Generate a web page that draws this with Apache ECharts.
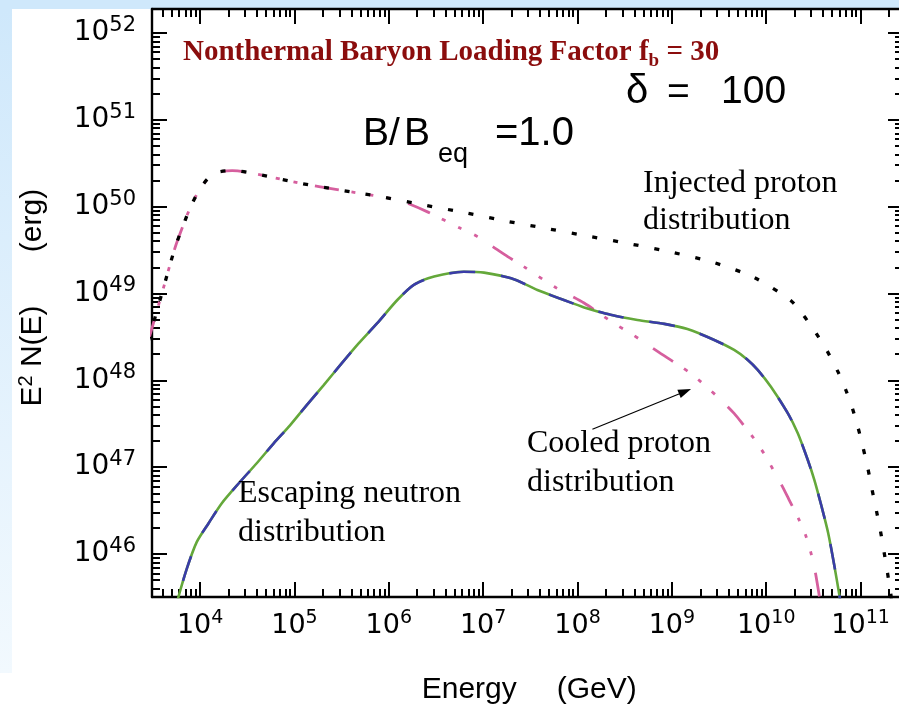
<!DOCTYPE html>
<html>
<head>
<meta charset="utf-8">
<title>Nonthermal Baryon Loading</title>
<script src="https://cdn.jsdelivr.net/npm/echarts@6/dist/echarts.min.js"></script>
<style>
  html, body { margin: 0; padding: 0; background: #ffffff; }
  #chart { width: 899px; height: 708px; }
</style>
</head>
<body>
<div id="chart"></div>
<script>
// Curves are stored as log10(E / GeV) and log10(E^2 N(E) / erg).

// Injected proton distribution (dotted)
const injectedLogE = [3.45, 3.49, 3.61, 3.735, 3.84, 3.90, 3.99, 4.08, 4.18, 4.34, 4.60, 5.06, 5.49, 5.91,
  6.37, 6.83, 7.26, 7.69, 8.14, 8.565, 9.02, 9.45, 9.87, 10.26, 10.40, 10.53, 10.65, 10.76, 10.847, 10.916, 10.975,
  11.028, 11.081, 11.123, 11.171, 11.213, 11.251, 11.286, 11.325, 11.34];
const injectedLogY = [48.45, 48.60, 49.06, 49.53, 49.84, 50.00, 50.19, 50.32, 50.395, 50.415, 50.375, 50.27, 50.19, 50.115,
  50.02, 49.925, 49.83, 49.745, 49.655, 49.57, 49.47, 49.355, 49.185, 48.92, 48.74, 48.54, 48.33, 48.10, 47.88, 47.67, 47.45,
  47.221, 46.968, 46.737, 46.484, 46.253, 46.012, 45.781, 45.505, 45.355];

// Cooled proton distribution (dash-dot-dot-dot)
const cooledLogE = [3.45, 3.49, 3.61, 3.735, 3.84, 3.90, 3.99, 4.08, 4.18, 4.34, 4.60, 5.06, 5.49, 5.91,
  6.12, 6.41, 6.76, 6.94, 7.26, 7.43, 7.75, 8.07, 8.38, 8.565, 8.88, 9.20, 9.485, 9.66, 9.76, 9.87,
  9.98, 10.08, 10.175, 10.24, 10.35, 10.42, 10.47, 10.51, 10.54, 10.565, 10.58];
const cooledLogY = [48.45, 48.60, 49.06, 49.53, 49.84, 50.00, 50.19, 50.32, 50.395, 50.415, 50.375, 50.27, 50.19, 50.115,
  50.07, 49.94, 49.75, 49.655, 49.425, 49.31, 49.08, 48.89, 48.66, 48.54, 48.31, 48.08, 47.81, 47.62, 47.485, 47.33,
  47.15, 46.96, 46.77, 46.63, 46.39, 46.21, 46.03, 45.85, 45.67, 45.50, 45.38];

// Escaping neutron distribution (green / blue dashes)
const neutronLogE = [3.75, 3.77, 3.86, 3.965, 4.09, 4.23, 4.41, 4.60, 4.78, 4.955, 5.13, 5.31, 5.50, 5.68,
  5.875, 6.09, 6.265, 6.48, 6.795, 7.01, 7.325, 7.575, 7.855, 8.07, 8.35, 8.635, 8.92, 9.165, 9.45,
  9.66, 9.805, 9.91, 10.05, 10.23, 10.335, 10.44, 10.51, 10.58, 10.655, 10.72, 10.775, 10.79];
const neutronLogY = [45.40, 45.505, 45.835, 46.14, 46.355, 46.585, 46.815, 47.045, 47.275, 47.485, 47.715, 47.945, 48.195, 48.425,
  48.655, 48.925, 49.10, 49.195, 49.25, 49.24, 49.165, 49.04, 48.925, 48.84, 48.755, 48.695, 48.65, 48.59, 48.465,
  48.35, 48.235, 48.12, 47.925, 47.62, 47.39, 47.085, 46.855, 46.576, 46.25, 45.88, 45.53, 45.42];

// Axis decades (tick labels 10^n) and visible ranges, as log10 values
const xDecades = [4, 5, 6, 7, 8, 9, 10, 11];
const yDecades = [46, 47, 48, 49, 50, 51, 52];
const xRangeExp = [3.49, 11.45];
const yRangeExp = [45.505, 52.276];

// Arrow pointing at the cooled curve, log10 coordinates
const arrowFrom = [8.158, 47.437];
const arrowTo = [9.14, 47.872];

const pow10 = (e) => Math.pow(10, e);
const toPairs = (xs, ys) => xs.map((x, i) => [pow10(x), pow10(ys[i])]);

const xMin = pow10(xRangeExp[0]), xMax = pow10(xRangeExp[1]);
const yMin = pow10(yRangeExp[0]), yMax = pow10(yRangeExp[1]);

function majorValues(decades) {
  return decades.map(pow10);
}
function minorValues(decades, lo, hi) {
  const out = [];
  const all = [decades[0] - 1].concat(decades);
  all.forEach((d) => {
    for (let k = 2; k <= 9; k++) {
      const v = k * pow10(d);
      if (v > lo && v < hi) out.push(v);
    }
  });
  return out;
}

const labelText = (v) => '{b|10}{s|' + Math.round(Math.log10(v)) + '}';
const TICK_FONT = 'DejaVu Sans';

const xRich = {
  b: { fontFamily: TICK_FONT, fontSize: 27, lineHeight: 34, color: '#000' },
  s: { fontFamily: TICK_FONT, fontSize: 19, lineHeight: 14, color: '#000', verticalAlign: 'top' }
};
const yRich = {
  b: { fontFamily: TICK_FONT, fontSize: 28, lineHeight: 36, color: '#000' },
  s: { fontFamily: TICK_FONT, fontSize: 21, lineHeight: 16, color: '#000', verticalAlign: 'top' }
};

function makeAxis(kind, position, values, longTicks, label) {
  const isX = kind === 'x';
  return {
    type: 'log',
    logBase: 10,
    position: position,
    min: isX ? xMin : yMin,
    max: isX ? xMax : yMax,
    axisLine: { show: longTicks, onZero: false, lineStyle: { color: '#000', width: 2.4 } },
    axisTick: {
      show: true, inside: true, length: longTicks ? 15 : 8,
      customValues: values,
      lineStyle: { color: '#000', width: 2 }
    },
    axisLabel: label ? Object.assign({ show: true, customValues: values, formatter: labelText,
                                       fontFamily: TICK_FONT, color: '#000' }, label)
                     : { show: false },
    splitLine: { show: false },
    minorTick: { show: false },
    minorSplitLine: { show: false }
  };
}

const xMajor = majorValues(xDecades), xMinor = minorValues(xDecades, xMin, xMax);
const yMajor = majorValues(yDecades), yMinor = minorValues(yDecades, yMin, yMax);

const serif = '"Liberation Serif", "Times New Roman", serif';
const sans = '"Liberation Sans", Arial, sans-serif';

function txt(x, y, text, font, extra) {
  return Object.assign({
    type: 'text', x: x, y: y, z: 100, silent: true,
    style: Object.assign({
      text: text, font: font, fill: '#000',
      align: 'left', textAlign: 'left',
      verticalAlign: 'middle', textVerticalAlign: 'middle'
    }, (extra && extra.style) || {})
  }, (extra && extra.el) || {});
}

const titleRed = '#8b0d0d';
const curveSmooth = 0.25;

const chart = echarts.init(document.getElementById('chart'), null, { renderer: 'canvas' });

chart.setOption({
  animation: false,
  backgroundColor: '#ffffff',
  grid: { left: 152, top: 9, width: 751, height: 588, containLabel: false, outerBoundsMode: 'none' },
  xAxis: [
    makeAxis('x', 'bottom', xMajor, true, { margin: 12, rich: xRich }),
    makeAxis('x', 'top', xMajor, true, null),
    makeAxis('x', 'bottom', xMinor, false, null),
    makeAxis('x', 'top', xMinor, false, null)
  ],
  yAxis: [
    makeAxis('y', 'left', yMajor, true, { margin: 16, rich: yRich }),
    makeAxis('y', 'right', yMajor, true, null),
    makeAxis('y', 'left', yMinor, false, null),
    makeAxis('y', 'right', yMinor, false, null)
  ],
  series: [
    {
      name: 'Cooled proton distribution',
      type: 'line', xAxisIndex: 0, yAxisIndex: 0,
      data: toPairs(cooledLogE, cooledLogY),
      showSymbol: false, symbol: 'none', smooth: curveSmooth,
      lineStyle: { color: '#d65f9e', width: 2.8, type: [24, 13, 4, 14, 4, 14, 4, 18], cap: 'butt' },
      z: 3,
      markLine: {
        silent: true,
        symbol: ['none', 'triangle'],
        symbolSize: [9, 13],
        label: { show: false },
        lineStyle: { color: '#000', width: 1.2, type: 'solid' },
        itemStyle: { color: '#000' },
        data: [[
          { coord: [pow10(arrowFrom[0]), pow10(arrowFrom[1])] },
          { coord: [pow10(arrowTo[0]), pow10(arrowTo[1])] }
        ]]
      }
    },
    {
      name: 'Injected proton distribution',
      type: 'line', xAxisIndex: 0, yAxisIndex: 0,
      data: toPairs(injectedLogE, injectedLogY),
      showSymbol: false, symbol: 'none', smooth: curveSmooth,
      lineStyle: { color: '#000000', width: 3.3, type: [5, 16], cap: 'butt' },
      z: 4
    },
    {
      name: 'Escaping neutron distribution',
      type: 'line', xAxisIndex: 0, yAxisIndex: 0,
      data: toPairs(neutronLogE, neutronLogY),
      showSymbol: false, symbol: 'none', smooth: curveSmooth,
      lineStyle: { color: '#64a83a', width: 2.6, type: 'solid' },
      z: 5
    },
    {
      name: 'Escaping neutron distribution (alt)',
      type: 'line', xAxisIndex: 0, yAxisIndex: 0,
      data: toPairs(neutronLogE, neutronLogY),
      showSymbol: false, symbol: 'none', smooth: curveSmooth,
      lineStyle: { color: '#3a3ca8', width: 2.6, type: [26, 26], dashOffset: 26, cap: 'butt' },
      z: 6
    }
  ],
  graphic: {
    elements: [
      // slide frame: light blue band along the top and left edges
      { type: 'rect', z: -100, silent: true, shape: { x: 0, y: 0, width: 899, height: 9 },
        style: { fill: '#cfe8fb' } },
      { type: 'rect', z: -100, silent: true, shape: { x: 0, y: 9, width: 12, height: 664 },
        style: { fill: { type: 'linear', x: 0, y: 0, x2: 0, y2: 1,
          colorStops: [{ offset: 0, color: '#cfe8fb' }, { offset: 1, color: '#f2f9fe' }] } } },

      // heading
      { type: 'text', x: 183, y: 53, z: 100, silent: true,
        style: {
          text: '{m|Nonthermal Baryon Loading Factor f}{s|b}{m| = 30}',
          verticalAlign: 'middle', textVerticalAlign: 'middle', align: 'left', textAlign: 'left',
          rich: {
            m: { font: 'bold 29px ' + serif, fill: titleRed, lineHeight: 30, verticalAlign: 'top' },
            s: { font: 'bold 19px ' + serif, fill: titleRed, lineHeight: 20, padding: [14, 0, 0, 0], verticalAlign: 'top' }
          }
        } },

      // parameters
      txt(626, 92, '\u03b4', '40px ' + sans),
      txt(667, 93, '=', '39px ' + sans),
      txt(721, 92, '100', '39px ' + sans),
      txt(363, 134, 'B', '39px ' + sans),
      txt(389, 134, '/', '39px ' + sans),
      txt(404, 134, 'B', '39px ' + sans),
      txt(438, 155, 'eq', '27px ' + sans),
      txt(495, 134, '=1.0', '40px ' + sans),

      // curve annotations
      txt(643, 184, 'Injected proton', '32px ' + serif),
      txt(643, 221, 'distribution', '32px ' + serif),
      txt(527, 444, 'Cooled proton', '32px ' + serif),
      txt(527, 482.5, 'distribution', '32px ' + serif),
      txt(238, 494, 'Escaping neutron', '32px ' + serif),
      txt(238, 532.5, 'distribution', '32px ' + serif),

      // axis titles
      txt(421.7, 690, 'Energy', '30px ' + sans),
      txt(636.7, 690, '(GeV)', '30px ' + sans, { style: { align: 'right', textAlign: 'right' } }),
      { type: 'text', x: 33, y: 356, z: 100, silent: true, rotation: Math.PI / 2,
        style: {
          text: '{m|E}{s|2}{m| N(E)}',
          align: 'center', textAlign: 'center', verticalAlign: 'middle', textVerticalAlign: 'middle',
          rich: {
            m: { font: '30px ' + sans, fill: '#000', lineHeight: 34 },
            s: { font: '20px ' + sans, fill: '#000', lineHeight: 16, verticalAlign: 'top' }
          }
        } },
      txt(33, 220.5, '(erg)', '30px ' + sans,
        { el: { rotation: Math.PI / 2 }, style: { align: 'center', textAlign: 'center' } })
    ]
  }
});
</script>
</body>
</html>
